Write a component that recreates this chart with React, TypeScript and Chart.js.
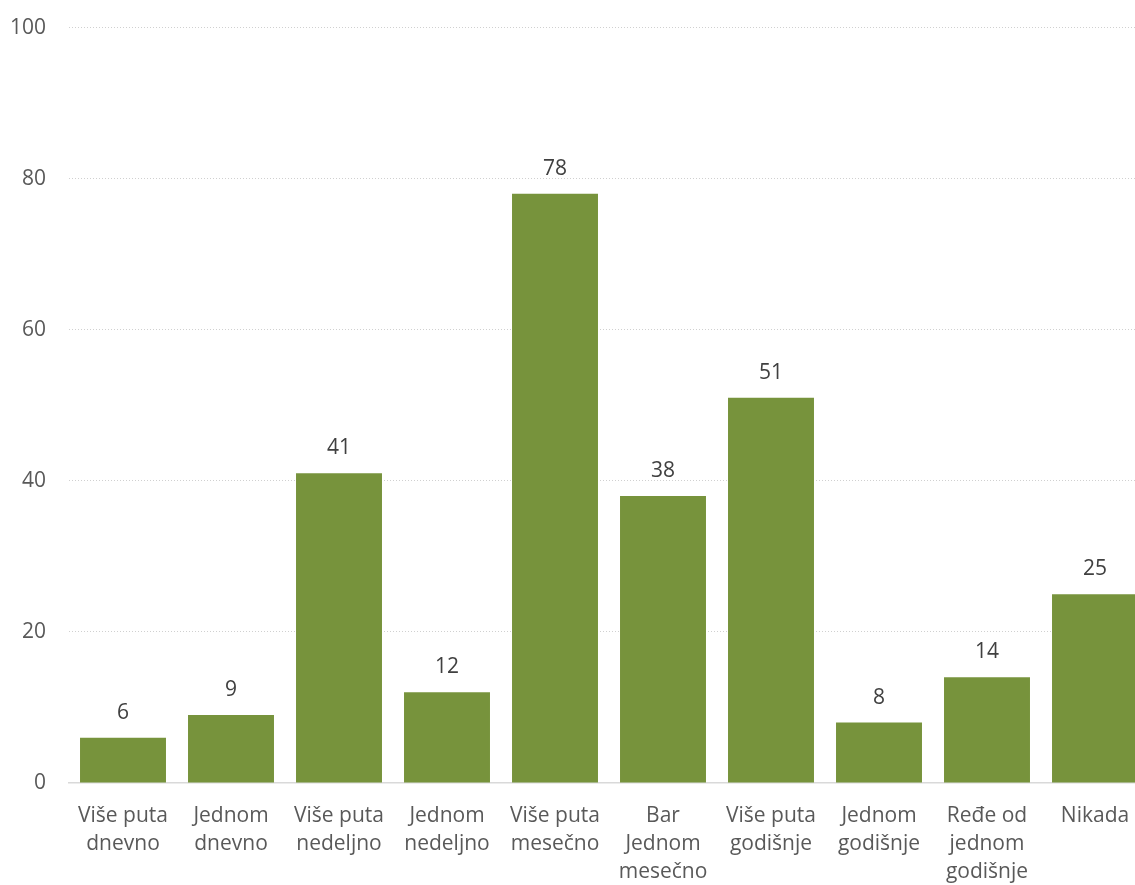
import React, { useEffect, useRef } from "react";
import { Chart, registerables } from "chart.js";

Chart.register(...registerables);

const categories: string[][] = [
  ["Više puta", "dnevno"],
  ["Jednom", "dnevno"],
  ["Više puta", "nedeljno"],
  ["Jednom", "nedeljno"],
  ["Više puta", "mesečno"],
  ["Bar", "Jednom", "mesečno"],
  ["Više puta", "godišnje"],
  ["Jednom", "godišnje"],
  ["Ređe od", "jednom", "godišnje"],
  ["Nikada"],
];
const values: number[] = [6, 9, 41, 12, 78, 38, 51, 8, 14, 25];
const yTicks: number[] = [0, 20, 40, 60, 80, 100];

const FONT = "'Open Sans', sans-serif";

const valueLabels = {
  id: "valueLabels",
  afterDatasetsDraw(chart: any) {
    const ctx = chart.ctx;
    const meta = chart.getDatasetMeta(0);
    ctx.save();
    ctx.font = `21px ${FONT}`;
    ctx.fillStyle = "#404040";
    ctx.textAlign = "center";
    ctx.textBaseline = "middle";
    meta.data.forEach((bar: any, i: number) => {
      ctx.fillText(String(values[i]), bar.x, bar.y - 25);
    });
    ctx.restore();
  },
};

export default function App() {
  const ref = useRef<HTMLCanvasElement>(null);
  useEffect(() => {
    if (!ref.current) return;
    const chart = new Chart(ref.current, {
      type: "bar",
      data: {
        labels: categories,
        datasets: [
          {
            data: values,
            backgroundColor: "#77933C",
            barPercentage: 0.796,
            categoryPercentage: 1,
          },
        ],
      },
      options: {
        animation: false,
        responsive: false,
        maintainAspectRatio: false,
        layout: { padding: { top: 35, right: 11, left: 0, bottom: 0 } },
        plugins: { legend: { display: false }, tooltip: { enabled: false } },
        scales: {
          x: {
            grid: { display: false, drawTicks: false },
            border: { display: true, color: "#d9d9d9", width: 1.5 },
            ticks: {
              color: "#595959",
              font: { family: FONT, size: 21, lineHeight: 1.33 },
              padding: 19,
              maxRotation: 0,
              autoSkip: false,
            },
            afterFit(scale: any) {
              scale.height = 102;
            },
          },
          y: {
            min: 0,
            max: 100,
            afterBuildTicks(scale: any) {
              scale.ticks = yTicks.map((v) => ({ value: v }));
            },
            grid: {
              drawTicks: false,
              color: (c: any) => (c.tick && c.tick.value === 0 ? "rgba(0,0,0,0)" : "#d0d0d0"),
              lineWidth: 1,
            },
            border: { display: false, dash: [1, 2] },
            ticks: {
              color: "#595959",
              font: { family: FONT, size: 21 },
              padding: 23,
            },
            afterFit(scale: any) {
              scale.width = 69;
            },
          },
        },
      },
      plugins: [valueLabels],
    });
    return () => chart.destroy();
  }, []);
  return (
    <div
      style={{
        position: "fixed",
        left: 0,
        top: 0,
        width: 1135,
        height: 885,
        overflow: "hidden",
        background: "#fff",
      }}
    >
      <canvas
        ref={ref}
        width={1160}
        height={893}
        style={{ display: "block", position: "absolute", left: 0, top: -8 }}
      />
    </div>
  );
}
